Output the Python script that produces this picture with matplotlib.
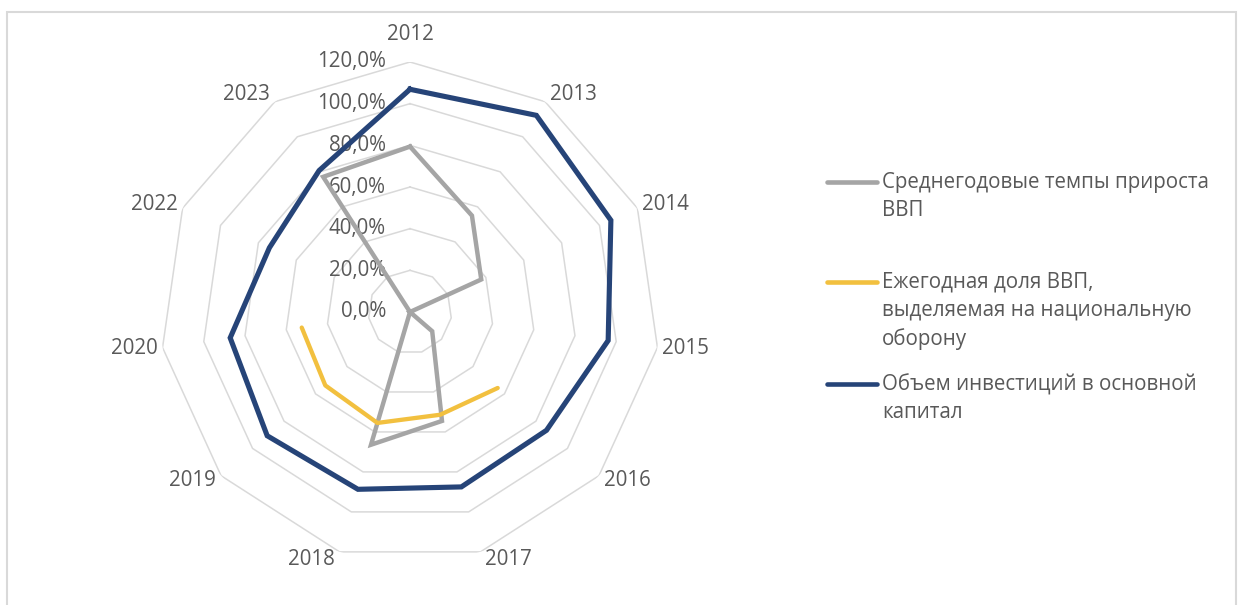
import numpy as np
import matplotlib
matplotlib.use("Agg")
from matplotlib import pyplot as plt
from matplotlib.lines import Line2D
from matplotlib.patches import Rectangle

plt.rcParams['font.family'] = ['Open Sans', 'DejaVu Sans']

years = ["2012", "2013", "2014", "2015", "2016", "2017", "2018", "2019", "2020", "2022", "2023"]
# values in %
gdp_growth = [79.4, 55.0, 37.6, 0.0, 14.1, 54.5, 66.4, 0.0, 0.0, 0.0, 77.1]
defense_share = [np.nan, np.nan, np.nan, np.nan, 55.7, 51.4, 55.5, 53.8, 52.5, np.nan, np.nan]
investment = [106.9, 112.2, 106.0, 96.1, 86.7, 87.5, 88.7, 90.7, 87.2, 74.2, 80.7]
ring_ticks = [0, 20, 40, 60, 80, 100, 120]
ring_labels = ["0,0%", "20,0%", "40,0%", "60,0%", "80,0%", "100,0%", "120,0%"]

series_names = ["Среднегодовые темпы прироста\nВВП",
                "Ежегодная доля ВВП,\nвыделяемая на национальную\nоборону",
                "Объем инвестиций в основной\nкапитал"]
colors = ["#A5A5A5", "#F2C03F", "#264478"]
text_color = "#595959"
grid_color = "#D9D9D9"

W, H = 1238, 605
fig = plt.figure(figsize=(W / 100, H / 100), dpi=100)
cx, cy, R = 410, 312, 250
ax = fig.add_axes([(cx - R) / W, (H - cy - R) / H, 2 * R / W, 2 * R / H], projection="polar")
ax.set_theta_zero_location("N")
ax.set_theta_direction(-1)
ax.set_ylim(0, 120)
ax.grid(False)
ax.spines["polar"].set_visible(False)
ax.set_xticks([])
ax.set_yticks([])
ax.patch.set_alpha(0)

n = len(years)
theta = np.arange(n) * 2 * np.pi / n
theta_closed = np.append(theta, theta[0])

# polygon grid
for r in ring_ticks[1:]:
    ax.plot(theta_closed, [r] * (n + 1), color=grid_color, lw=1.1, zorder=1)

# series
ax.plot(theta_closed, np.append(gdp_growth, gdp_growth[0]), color=colors[0], lw=3.2,
        solid_joinstyle="miter", zorder=3)
ax.plot(theta, defense_share, color=colors[1], lw=3.1, solid_capstyle="round", zorder=4)
ax.plot(theta_closed, np.append(investment, investment[0]), color=colors[2], lw=3.7,
        solid_joinstyle="miter", zorder=5)

fs = 14.8

# radial tick labels
for r, lab in zip(ring_ticks, ring_labels):
    ax.annotate(lab, xy=(0, r), xytext=(-24, 0), textcoords="offset pixels",
                ha="right", va="center", fontsize=fs, color=text_color, zorder=2)

# category labels
for t, y in zip(theta, years):
    s, c = np.sin(t), np.cos(t)
    if abs(s) < 0.1:
        ha, dx, dy = "center", 0, 27
    else:
        ha = "left" if s > 0 else "right"
        dx, dy = 5 * np.sign(s), 8 * c
    ax.annotate(y, xy=(t, 120), xytext=(dx, dy), textcoords="offset pixels",
                ha=ha, va="center", fontsize=fs, color=text_color, annotation_clip=False)

# legend, drawn like the Excel one
leg_y = [182, 282, 384]
for name, col, y in zip(series_names, colors, leg_y):
    fig.add_artist(Line2D([827 / W, 877 / W], [1 - y / H, 1 - y / H], transform=fig.transFigure,
                          color=col, lw=3.3, solid_capstyle="round"))
    fig.text(882 / W, 1 - (y - 10) / H, name, ha="left", va="top", fontsize=fs,
             color=text_color, linespacing=1.42)

# chart border
fig.add_artist(Rectangle((7 / W, -0.02), (1236 - 7) / W, 1.02 - 11.5 / H, transform=fig.transFigure,
                         fill=False, ec=grid_color, lw=1.5))

fig.savefig("out.png", dpi=100, facecolor="white")
